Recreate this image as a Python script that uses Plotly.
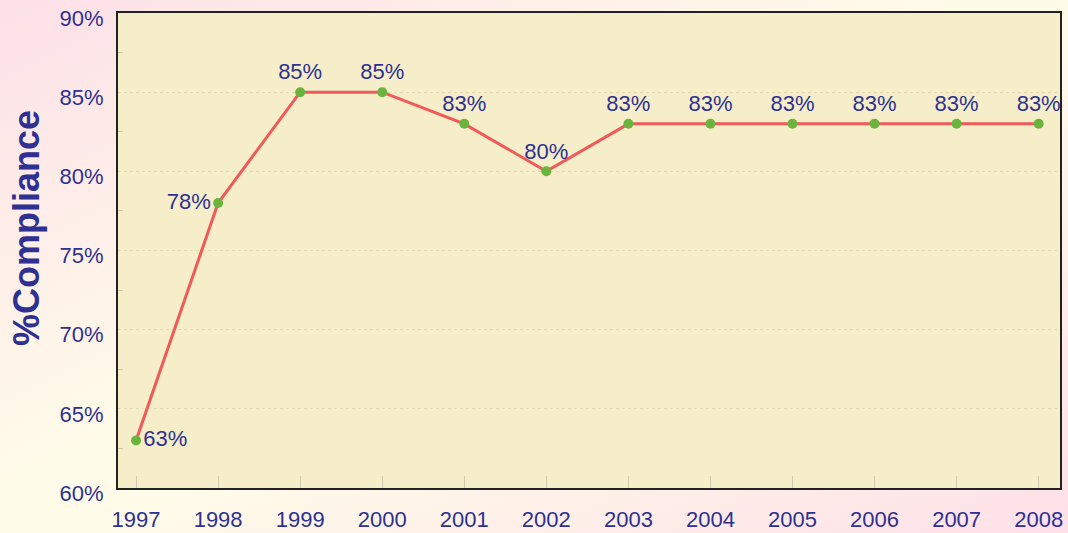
import base64
import plotly.graph_objects as go

years = [1997, 1998, 1999, 2000, 2001, 2002, 2003, 2004, 2005, 2006, 2007, 2008]
compliance = [63, 78, 85, 85, 83, 80, 83, 83, 83, 83, 83, 83]
labels = [f"{v}%" for v in compliance]
label_pos = ["middle right", "middle left"] + ["top center"] * 10
y_ticks = [60, 65, 70, 75, 80, 85, 90]
y_ticktext = [f"{v}%" for v in y_ticks]

W, H = 1068, 533
ML, MR, MT, MB = 118, 8, 13, 45
PW, PH = W - ML - MR, H - MT - MB

svg = f'''<svg xmlns="http://www.w3.org/2000/svg" width="{W}" height="{H}" preserveAspectRatio="none">
<defs><linearGradient id="g" x1="0" y1="0" x2="1" y2="1">
<stop offset="0" stop-color="#fde0e8"/>
<stop offset="0.45" stop-color="#fffbe9"/>
<stop offset="0.55" stop-color="#fffbe9"/>
<stop offset="1" stop-color="#fde0e8"/>
</linearGradient></defs>
<rect width="{W}" height="{H}" fill="url(#g)"/></svg>'''
bg_src = "data:image/svg+xml;base64," + base64.b64encode(svg.encode()).decode()

text_color = "#2e3192"
FONT = "Liberation Sans, Arial, sans-serif"

fig = go.Figure()
fig.add_trace(go.Scatter(
    x=years, y=compliance,
    mode="lines+markers+text",
    line=dict(color="#f05a5a", width=3),
    marker=dict(color="#6ab43e", size=10),
    text=labels, textposition=label_pos,
    textfont=dict(family=FONT, size=22, color=text_color),
    cliponaxis=False,
    hoverinfo="skip",
))

fig.update_layout(
    width=W, height=H,
    margin=dict(l=ML, r=MR, t=MT, b=MB, autoexpand=False),
    paper_bgcolor="#fdf0ea",
    plot_bgcolor="#f5eec8",
    showlegend=False,
    font=dict(family=FONT, color=text_color),
    images=[dict(source=bg_src, xref="paper", yref="paper", x=-ML/PW, y=1 + MT/PH,
                 sizex=W/PW, sizey=H/PH, sizing="stretch", layer="below",
                 xanchor="left", yanchor="top")],
    shapes=[dict(type="rect", xref="paper", yref="paper", x0=0, x1=1, y0=0, y1=1,
                 fillcolor="#f5eec8", line=dict(width=0), layer="below")],
    annotations=[dict(text="<b>%Compliance</b>", xref="paper", yref="paper",
                      x=(27 - ML)/PW, y=(H - MB - 228)/PH, xanchor="center", yanchor="middle",
                      textangle=-90, showarrow=False,
                      font=dict(size=36, color=text_color, family=FONT))],
)
fig.update_xaxes(
    range=[1996.78, 2008.26], tickvals=years, ticktext=[str(y) for y in years],
    ticks="inside", ticklen=12, tickcolor="#cfc9b0", tickwidth=1,
    tickfont=dict(size=22, color=text_color), ticklabelstandoff=11,
    showgrid=False, zeroline=False, automargin=False,
    showline=True, linecolor="#222222", linewidth=2, mirror=True,
)
fig.update_yaxes(
    range=[60, 90], tickvals=y_ticks, ticktext=y_ticktext,
    ticks="", tickfont=dict(size=22, color=text_color), ticklabelstandoff=8,
    ticklabelshift=5, automargin=False,
    showgrid=True, gridcolor="#e2dbb6", griddash="dot", gridwidth=1,
    zeroline=False,
    showline=True, linecolor="#222222", linewidth=2, mirror=True,
    minor=dict(tickvals=[62.5, 67.5, 72.5, 77.5, 82.5, 87.5], ticks="inside",
               ticklen=5, tickcolor="#cfc9b0", showgrid=False),
)

fig.write_html("out.html", config={"displayModeBar": False},
               post_script="document.body.style.margin='0';")
